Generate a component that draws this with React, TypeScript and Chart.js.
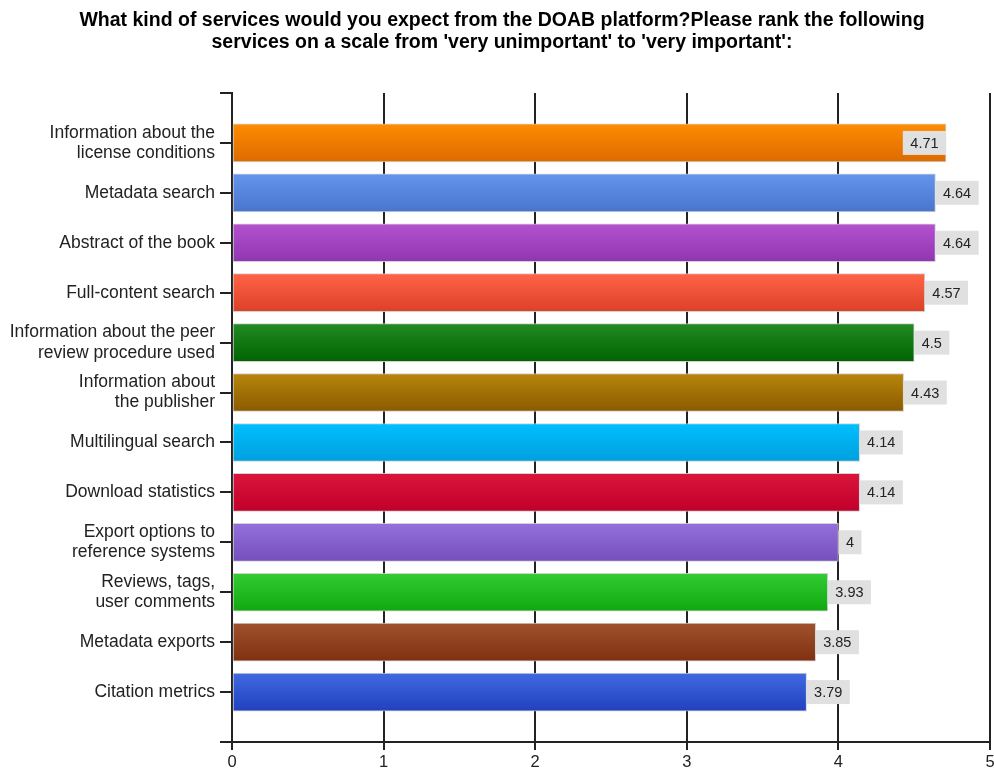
import React, { useEffect, useRef } from 'react';
import { Chart, registerables } from 'chart.js';

Chart.register(...registerables);

const titleLines = [
  'What kind of services would you expect from the DOAB platform?Please rank the following',
  "services on a scale from 'very unimportant' to 'very important':",
];

const categories: string[][] = [
  ['Information about the', 'license conditions'],
  ['Metadata search'],
  ['Abstract of the book'],
  ['Full-content search'],
  ['Information about the peer', 'review procedure used'],
  ['Information about', 'the publisher'],
  ['Multilingual search'],
  ['Download statistics'],
  ['Export options to', 'reference systems'],
  ['Reviews, tags,', 'user comments'],
  ['Metadata exports'],
  ['Citation metrics'],
];

const values = [4.71, 4.64, 4.64, 4.57, 4.5, 4.43, 4.14, 4.14, 4, 3.93, 3.85, 3.79];

const colorsTop = [
  '#FF8C00', '#6495ED', '#B452D0', '#FF6347', '#228B22', '#B8860B',
  '#00BFFF', '#DC143C', '#9370DB', '#32CD32', '#A0522D', '#4169E1',
];
const colorsBottom = [
  '#DD6A00', '#4A74CC', '#9035B0', '#DC4028', '#006400', '#8B5A00',
  '#00A0DD', '#C0002A', '#7550BC', '#10A810', '#7F3010', '#2040C0',
];

const xTicks = [0, 1, 2, 3, 4, 5];

const LINE = '#222222';
const FONT = '"Liberation Sans", Arial, sans-serif';

const titlePlugin = {
  id: 'customTitle',
  afterDraw(chart: any) {
    const ctx = chart.ctx;
    ctx.save();
    ctx.fillStyle = '#000';
    ctx.font = `bold 19.5px ${FONT}`;
    ctx.textAlign = 'center';
    ctx.textBaseline = 'alphabetic';
    ctx.fillText(titleLines[0], 502, 26);
    ctx.fillText(titleLines[1], 502, 48);
    ctx.restore();
  },
};

const valueLabelPlugin = {
  id: 'valueLabels',
  afterDatasetsDraw(chart: any) {
    const ctx = chart.ctx;
    const meta = chart.getDatasetMeta(0);
    const area = chart.chartArea;
    ctx.save();
    ctx.font = `14.5px ${FONT}`;
    ctx.textBaseline = 'middle';
    ctx.textAlign = 'center';
    meta.data.forEach((el: any, i: number) => {
      const v = chart.data.datasets[0].data[i];
      if (v === null || v === undefined) return;
      const text = String(v);
      const tw = ctx.measureText(text).width;
      const w = tw + 15;
      const h = 24;
      let x0 = el.x;
      if (x0 + w > area.right - 2) x0 = el.x - w;
      const y0 = el.y - h / 2;
      ctx.fillStyle = '#E0E0E0';
      ctx.fillRect(x0, y0, w, h);
      ctx.fillStyle = '#222';
      ctx.fillText(text, x0 + w / 2, el.y + 1);
    });
    ctx.restore();
  },
};

export default function App() {
  const ref = useRef<HTMLCanvasElement | null>(null);

  useEffect(() => {
    if (!ref.current) return;
    const labels: any[] = ['', ...categories, ''];
    const data: any[] = [null, ...values, null];

    const bg = (ctx: any) => {
      const idx = ctx.dataIndex - 1;
      const top = colorsTop[idx] || '#999';
      const bottom = colorsBottom[idx] || '#777';
      if (ctx.type !== 'data') return top;
      const chart = ctx.chart;
      const ys = chart.scales && chart.scales.y;
      if (!ys || !chart.chartArea) return top;
      const c = ys.getPixelForValue(ctx.dataIndex);
      if (!isFinite(c)) return top;
      const g = chart.ctx.createLinearGradient(0, c - 19, 0, c + 19);
      g.addColorStop(0, top);
      g.addColorStop(1, bottom);
      return g;
    };

    const chart = new Chart(ref.current, {
      type: 'bar',
      data: {
        labels,
        datasets: [
          {
            data,
            backgroundColor: bg,
            borderColor: 'rgba(205,205,205,0.9)',
            borderWidth: 1,
            borderSkipped: false,
            barThickness: 38,
          },
        ],
      },
      options: {
        indexAxis: 'y',
        responsive: false,
        animation: false,
        devicePixelRatio: 1,
        layout: { padding: { top: 93, right: 4, left: 0, bottom: 0 } },
        plugins: {
          legend: { display: false },
          tooltip: { enabled: false },
          title: { display: false },
        },
        scales: {
          x: {
            type: 'linear',
            min: xTicks[0],
            max: xTicks[xTicks.length - 1],
            afterFit: (s: any) => { s.height = 31; s.paddingRight = 0; s.paddingLeft = 0; },
            afterBuildTicks: (s: any) => { s.ticks = xTicks.map((v) => ({ value: v })); },
            ticks: {
              stepSize: 1,
              color: '#222',
              padding: 3,
              font: { family: FONT, size: 16.5 },
            },
            grid: {
              color: LINE,
              lineWidth: 2,
              tickLength: 8,
              drawTicks: true,
              drawOnChartArea: true,
            },
            border: { display: true, color: LINE, width: 2 },
          },
          y: {
            type: 'category',
            offset: false,
            afterFit: (s: any) => { s.width = 232; },
            ticks: {
              color: '#222',
              padding: 5,
              autoSkip: false,
              font: { family: FONT, size: 17.5, lineHeight: 1.15 },
            },
            grid: {
              offset: false,
              color: LINE,
              lineWidth: 2,
              tickLength: 12,
              drawTicks: true,
              drawOnChartArea: false,
            },
            border: { display: true, color: LINE, width: 2 },
          },
        },
      } as any,
      plugins: [titlePlugin, valueLabelPlugin],
    });
    return () => chart.destroy();
  }, []);

  return (
    <div style={{ position: 'absolute', left: 0, top: 0, width: 994, height: 773, background: '#fff' }}>
      <canvas ref={ref} width={994} height={773} style={{ display: 'block' }} />
    </div>
  );
}
